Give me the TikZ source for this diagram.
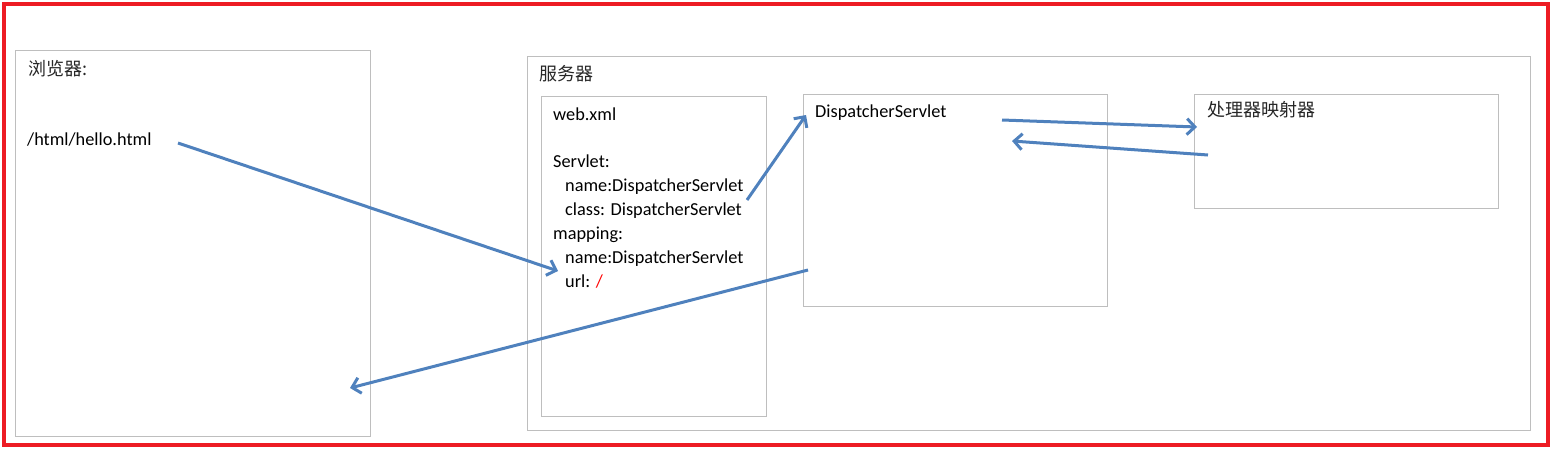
\documentclass[tikz,border=0pt]{standalone}
\usepackage{fontspec}
\setmainfont{Carlito}
\newfontfamily\cjk{Noto Sans CJK SC}
\usetikzlibrary{arrows.meta}
\definecolor{framered}{RGB}{237,28,36}
\definecolor{boxgray}{RGB}{190,190,190}
\definecolor{flowblue}{RGB}{79,129,189}
\definecolor{urlred}{RGB}{255,0,0}
\tikzset{
  box/.style={draw=boxgray,line width=1pt,anchor=north west,inner sep=0pt},
  lbl/.style={anchor=base west,inner sep=0pt,font=\fontsize{18.3}{24}\selectfont},
  cjklbl/.style={anchor=base west,inner sep=0pt,font=\fontsize{18}{22}\selectfont\cjk,text=black!85}
}

\begin{document}
\begin{tikzpicture}[x=1pt,y=-1pt]
  \useasboundingbox (0,0) rectangle (1550,453);
  \draw[framered,line width=4pt] (4,3.5) rectangle (1547.5,445);

  % boxes:
  \node[box,minimum width=355pt,minimum height=386pt] (browser) at (15,50) {};
  \node[box,minimum width=1003pt,minimum height=374pt] (server) at (527,56) {};
  \node[box,minimum width=225pt,minimum height=320pt] (webxml) at (541,96) {};
  \node[box,minimum width=304pt,minimum height=212pt] (dispatcher) at (803,94) {};
  \node[box,minimum width=304pt,minimum height=114pt] (mapper) at (1194,94) {};

  % texts:
  \node[cjklbl] (browserlbl) at (28,75) {浏览器:};
  \node[lbl] (hello) at (27,145) {/html/hello.html};
  \node[cjklbl] (serverlbl) at (539,80) {服务器};
  \node[lbl] (webxmltitle) at (553,120) {web.xml};
  \node[lbl,align=left,anchor=north west] (webxmltext) at (553,154.5) {Servlet:\\
    \hspace*{12pt}name:DispatcherServlet\\
    \hspace*{12pt}class: DispatcherServlet\\
    mapping:\\
    \hspace*{12pt}name:DispatcherServlet\\
    \hspace*{12pt}url: \textcolor{urlred}{/}};
  \node[lbl] (dispatcherlbl) at (815,117) {DispatcherServlet};
  \node[cjklbl] (mapperlbl) at (1207,116) {处理器映射器};

  % arrow ends:
  \coordinate (req) at (178,143);
  \coordinate (url) at (558,271);
  \coordinate (cls) at (747,200);
  \coordinate (dsin) at (806,115);
  \coordinate (dsout) at (1002,120);
  \coordinate (mapin) at (1197,127);
  \coordinate (mapout) at (1208,155);
  \coordinate (dsback) at (1012,141);
  \coordinate (resp) at (808,270);
  \coordinate (browserin) at (350,388);

  \begin{scope}[line width=3pt,flowblue,-{Straight Barb[length=8pt,width=16pt]}]
      \draw (req) -- (url);
      \draw (cls) -- (dsin);
      \draw (dsout) -- (mapin);
      \draw (mapout) -- (dsback);
      \draw (resp) -- (browserin);
  \end{scope}
\end{tikzpicture}
\end{document}
